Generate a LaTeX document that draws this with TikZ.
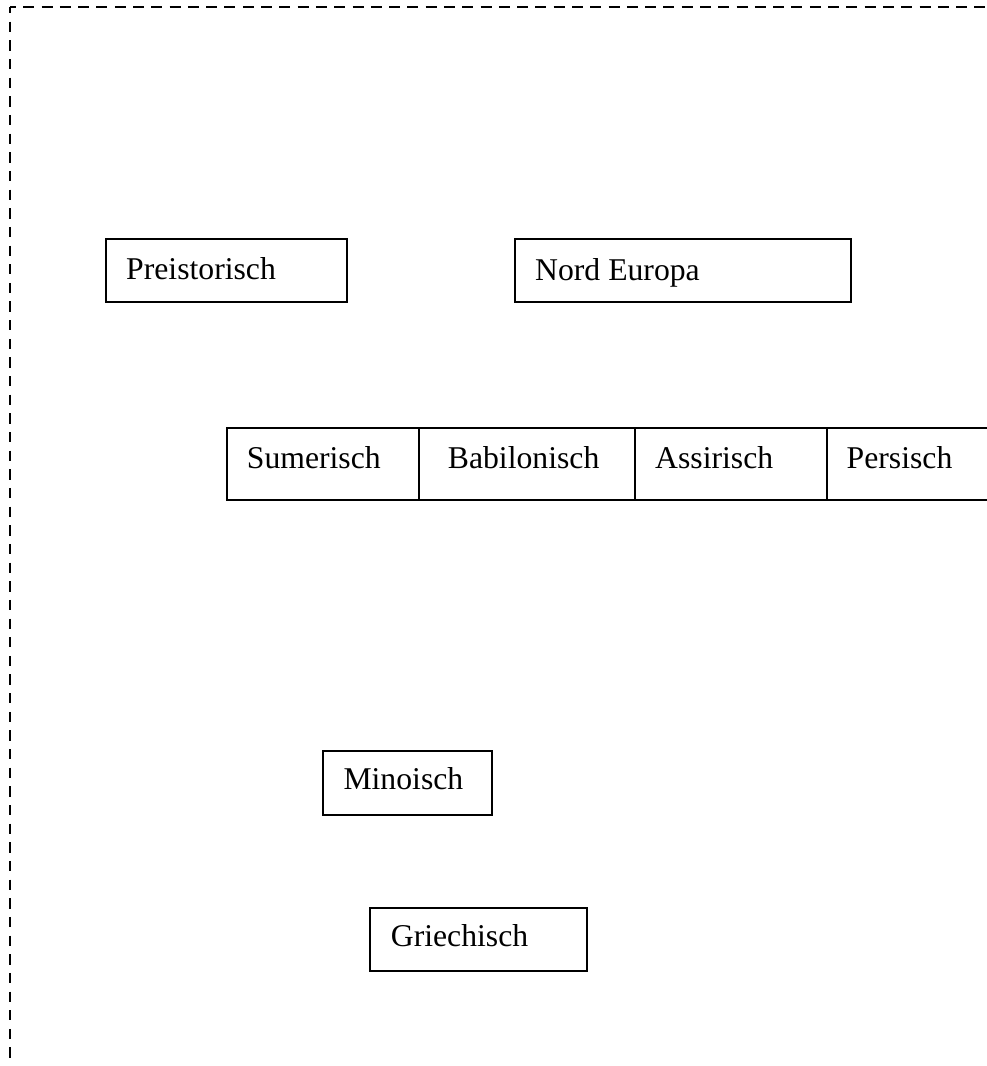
\documentclass[tikz,border=0pt]{standalone}
\usepackage{fontspec}
\setmainfont{Liberation Serif}
\usepackage{xcolor}
\usepackage{tikz}
\usetikzlibrary{positioning}

\tikzset{
    epochbox/.style={draw=black, line width=1.8pt, anchor=north west, inner sep=0pt},
    epochlbl/.style={anchor=base west, inner sep=0pt, font=\fontsize{31.7}{38}\selectfont},
    frame/.style={line width=2.3pt, black}
}

\begin{document}
\begin{tikzpicture}[x=1pt, y=-1pt]
    \useasboundingbox (0,0) rectangle (986,1066);
    % Dashed frame
    \draw[frame, dash pattern=on 10.3pt off 8.35pt, dash phase=3.95pt] (10,7) -- (10,1060);
    \draw[frame, dash pattern=on 11pt off 7.29pt, dash phase=4.99pt] (10,7) -- (995,7);
    %
    % Upper boxes
    \node[epochbox, minimum width=241pt, minimum height=63pt] (preist) at (105,238) {};
    \node[epochlbl] (preistlbl) at (126,279.5) {Preistorisch};
    \node[epochbox, minimum width=336pt, minimum height=63pt] (nord) at (514,238) {};
    \node[epochlbl] (nordlbl) at (535,280) {Nord Europa};
    %
    % Row of cells
    \node[epochbox, minimum width=192pt, minimum height=72pt] (sum) at (226,427) {};
    \node[epochlbl] (sumlbl) at (246.7,468) {Sumerisch};
    \node[epochbox, minimum width=216pt, minimum height=72pt] (bab) at (418,427) {};
    \node[epochlbl] (bablbl) at (447.7,468) {Babilonisch};
    \node[epochbox, minimum width=192pt, minimum height=72pt] (ass) at (634,427) {};
    \node[epochlbl] (asslbl) at (655,468) {Assirisch};
    \node[epochbox, minimum width=180pt, minimum height=72pt] (pers) at (826,427) {};
    \node[epochlbl] (perslbl) at (846.5,468) {Persisch};
    %
    % Lower boxes
    \node[epochbox, minimum width=169pt, minimum height=64pt] (min) at (321.7,750) {};
    \node[epochlbl] (minlbl) at (343.3,789) {Minoisch};
    \node[epochbox, minimum width=217pt, minimum height=63pt] (griech) at (369.3,907) {};
    \node[epochlbl] (griechlbl) at (390.7,946.7) {Griechisch};
\end{tikzpicture}
\end{document}
